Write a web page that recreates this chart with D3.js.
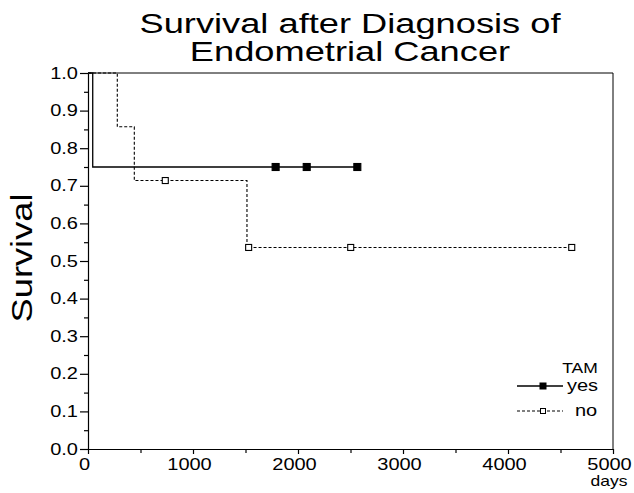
<!DOCTYPE html>
<html>
<head>
<meta charset="utf-8">
<script src="https://cdn.jsdelivr.net/npm/d3@7"></script>
<style>
  body { margin: 0; background: #fff; }
  svg { display: block; font-family: "Liberation Sans", Arial, sans-serif; }
  text { fill: #000; }
</style>
</head>
<body>
<svg id="chart" width="634" height="493"></svg>
<script>
// Kaplan-Meier steps
const yesTime = [0, 45];
const yesSurv = [1, 0.75];
const yesCens = [1787, 2083, 2565];

const noTime = [0, 279, 441, 1514];
const noSurv = [1, 0.857, 0.714, 0.536];
const noCens = [736, 1530, 2502, 4607];

const xTicks = [0, 1000, 2000, 3000, 4000, 5000];
const xMinor = [500, 1500, 2500, 3500, 4500];
const yTicks = [0, 0.1, 0.2, 0.3, 0.4, 0.5, 0.6, 0.7, 0.8, 0.9, 1.0];
const yMinor = [0.05, 0.15, 0.25, 0.35, 0.45, 0.55, 0.65, 0.75, 0.85, 0.95];

const titleLines = ['Survival after Diagnosis of', 'Endometrial Cancer'];
const legendTitle = 'TAM';
const legendLabels = ['yes', 'no'];

// the old plot uses horizontally stretched type
const S = 1.25;

const svg = d3.select('#chart');

const x = d3.scaleLinear().domain([0, 5000]).range([88, 613]);
const y = d3.scaleLinear().domain([0, 1]).range([449, 73]);

// title (two tight lines)
titleLines.forEach((t, i) => {
  svg.append('text')
    .attr('transform', `translate(350, ${33 + i * 28}) scale(${S * 29 / 26},1.05)`)
    .attr('text-anchor', 'middle')
    .style('font-size', '26px')
    .text(t);
});

// y label
svg.append('text')
  .attr('transform', `translate(32, 258) rotate(-90) scale(${S},1)`)
  .attr('text-anchor', 'middle')
  .style('font-size', '29px')
  .text('Survival');

// frame: top and right
svg.append('path')
  .attr('d', `M${x(0)},${y(1)}H${x(5000)}V${y(0)}`)
  .attr('fill', 'none')
  .attr('stroke', '#000')
  .attr('stroke-width', 1);

// axes
const yAxis = svg.append('g')
  .attr('transform', `translate(${x(0)},0)`)
  .call(d3.axisLeft(y).tickValues(yTicks).tickFormat(d3.format('.1f')).tickSize(8).tickSizeOuter(0));
yAxis.selectAll('text')
  .attr('x', -10 / S)
  .attr('transform', `scale(${S},1)`)
  .style('font-size', '16px');

svg.append('g')
  .attr('transform', `translate(${x(0)},0)`)
  .call(d3.axisLeft(y).tickValues(yMinor).tickFormat('').tickSize(4).tickSizeOuter(0))
  .select('.domain').remove();

const xAxis = svg.append('g')
  .attr('transform', `translate(0,${y(0)})`)
  .call(d3.axisBottom(x).tickValues(xTicks).tickFormat(d3.format('d')).tickSize(5).tickSizeOuter(0));
xAxis.selectAll('text')
  .attr('x', -4 / S)
  .attr('y', 10)
  .attr('transform', `scale(${S},1)`)
  .style('font-size', '16px');

svg.append('g')
  .attr('transform', `translate(0,${y(0)})`)
  .call(d3.axisBottom(x).tickValues(xMinor).tickFormat('').tickSize(4).tickSizeOuter(0))
  .select('.domain').remove();

svg.selectAll('.domain, .tick line').attr('stroke', '#000').attr('stroke-width', 1.2);

svg.append('text')
  .attr('transform', `translate(609, 486) scale(${S},1)`)
  .attr('text-anchor', 'middle')
  .style('font-size', '14px')
  .text('days');

// survival curves
const survAt = (times, surv, t) => {
  let s = surv[0];
  times.forEach((tt, i) => { if (tt <= t) s = surv[i]; });
  return s;
};

const stepLine = d3.line()
  .x(d => x(d[0]))
  .y(d => y(d[1]))
  .curve(d3.curveStepAfter);

const groups = [
  { times: yesTime, surv: yesSurv, cens: yesCens, dash: null, width: 1.3, fill: '#000', size: 7 },
  { times: noTime, surv: noSurv, cens: noCens, dash: '3,2', width: 1.1, fill: '#fff', size: 6 }
];

groups.forEach(g => {
  const end = d3.max(g.cens);
  const pts = g.times.map((t, i) => [t, g.surv[i]]);
  pts.push([end, survAt(g.times, g.surv, end)]);

  svg.append('path')
    .attr('d', stepLine(pts))
    .attr('fill', 'none')
    .attr('stroke', '#000')
    .attr('stroke-width', g.width)
    .attr('stroke-dasharray', g.dash);

  svg.selectAll(null)
    .data(g.cens)
    .enter()
    .append('rect')
      .attr('x', d => x(d) - g.size / 2)
      .attr('y', d => y(survAt(g.times, g.surv, d)) - g.size / 2)
      .attr('width', g.size)
      .attr('height', g.size)
      .attr('fill', g.fill)
      .attr('stroke', '#000')
      .attr('stroke-width', 1.1);
});

// legend
svg.append('text')
  .attr('transform', `translate(580, 373) scale(${S},1)`)
  .attr('text-anchor', 'middle')
  .style('font-size', '14px')
  .text(legendTitle);

groups.forEach((g, i) => {
  const ly = 386 + i * 25;
  svg.append('line')
    .attr('x1', 517).attr('x2', 563)
    .attr('y1', ly).attr('y2', ly)
    .attr('stroke', '#000')
    .attr('stroke-width', g.width)
    .attr('stroke-dasharray', g.dash);
  svg.append('rect')
    .attr('x', 543 - g.size / 2 + 0.5)
    .attr('y', ly - g.size / 2 + 0.5)
    .attr('width', g.size - 1)
    .attr('height', g.size - 1)
    .attr('fill', g.fill)
    .attr('stroke', '#000')
    .attr('stroke-width', 1);
  svg.append('text')
    .attr('transform', `translate(${i === 0 ? 567 : 575}, ${ly + 5}) scale(${S},1)`)
    .style('font-size', '16px')
    .text(legendLabels[i]);
});
</script>
</body>
</html>
